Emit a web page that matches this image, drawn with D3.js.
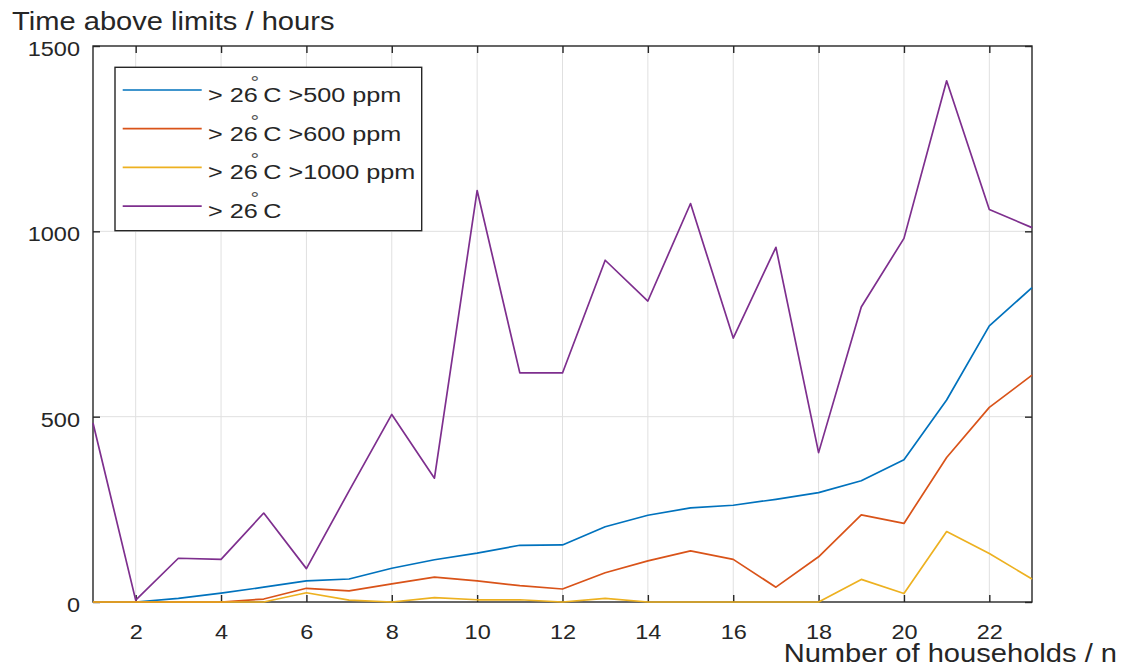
<!DOCTYPE html>
<html>
<head>
<meta charset="utf-8">
<script src="https://cdn.jsdelivr.net/npm/d3@7"></script>
<style>
  body { margin: 0; background: #fff; }
  svg { display: block; }
  text { font-family: "Liberation Sans", Arial, sans-serif; fill: #262626; }
</style>
</head>
<body>
<svg id="chart" width="1125" height="667"></svg>
<script>
// Number of households in each case
const households = [1, 2, 3, 4, 5, 6, 7, 8, 9, 10, 11, 12, 13, 14, 15, 16, 17, 18, 19, 20, 21, 22, 23];

// Hours above the limits
const over26co2_500  = [0, 0, 10, 24, 40, 57, 62, 91, 114, 132, 153, 154, 203, 234, 254, 261, 277, 295, 327, 384, 545, 745, 848];
const over26co2_600  = [0, 0, 0, 0, 8, 37, 30, 49, 67, 57, 44, 35, 79, 111, 138, 115, 40, 122, 235, 212, 390, 525, 612];
const over26co2_1000 = [0, 0, 0, 0, 0, 25, 5, 0, 12, 6, 6, 0, 10, 0, 0, 0, 0, 0, 61, 23, 190, 131, 62];
const over26         = [483, 5, 118, 115, 240, 90, 300, 506, 334, 1110, 618, 618, 922, 812, 1075, 712, 957, 403, 796, 981, 1406, 1059, 1010];

const xTickValues = [2, 4, 6, 8, 10, 12, 14, 16, 18, 20, 22];
const yTickValues = [0, 500, 1000, 1500];

// Legend labels: text before and after the superscript degree ring
const labelHead = ["> 26", "> 26", "> 26", "> 26"];
const labelTail = ["C >500 ppm", "C >600 ppm", "C >1000 ppm", "C"];

const series = [over26co2_500, over26co2_600, over26co2_1000, over26];
const colors = ["#0072BD", "#D95319", "#EDB120", "#7E2F8E"];

const svg = d3.select("#chart");
const ink = "#262626";
const sx = 1.12; // horizontal text stretch

const plotL = 93, plotR = 1032, plotT = 46, plotB = 602;

const x = d3.scaleLinear().domain([1, 23]).range([plotL, plotR]);
const y = d3.scaleLinear().domain([0, 1500]).range([plotB, plotT]);

// Grid
const grid = svg.append("g").attr("stroke", "#e0e0e0").attr("stroke-width", 1);
grid.selectAll("line.gx").data(xTickValues).join("line")
  .attr("x1", d => x(d)).attr("x2", d => x(d))
  .attr("y1", plotT).attr("y2", plotB);
grid.selectAll("line.gy").data([500, 1000]).join("line")
  .attr("y1", d => y(d)).attr("y2", d => y(d))
  .attr("x1", plotL).attr("x2", plotR);

// Axes box
svg.append("rect")
  .attr("x", plotL).attr("y", plotT)
  .attr("width", plotR - plotL).attr("height", plotB - plotT)
  .attr("fill", "none").attr("stroke", ink).attr("stroke-width", 1.4);

function styleAxis(g) {
  g.select(".domain").remove();
  g.selectAll(".tick line").attr("stroke", ink).attr("stroke-width", 1.4);
  g.selectAll(".tick text").attr("fill", ink)
    .style("font-family", "'Liberation Sans', Arial, sans-serif")
    .style("font-size", "21px");
}

const xAxisBottom = svg.append("g").attr("transform", `translate(0,${plotB})`)
  .call(d3.axisBottom(x).tickValues(xTickValues).tickSizeInner(-7).tickSizeOuter(0).tickFormat(d3.format("d")))
  .call(styleAxis);
xAxisBottom.selectAll(".tick text")
  .attr("y", 37).attr("dy", null)
  .attr("transform", `scale(${sx},1)`);

svg.append("g").attr("transform", `translate(0,${plotT})`)
  .call(d3.axisTop(x).tickValues(xTickValues).tickSizeInner(-7).tickSizeOuter(0).tickFormat(""))
  .call(styleAxis);

const yAxisLeft = svg.append("g").attr("transform", `translate(${plotL},0)`)
  .call(d3.axisLeft(y).tickValues(yTickValues).tickSizeInner(-7).tickSizeOuter(0).tickFormat(d3.format("d")))
  .call(styleAxis);
yAxisLeft.selectAll(".tick text")
  .attr("x", -13 / sx).attr("dy", "0.45em")
  .attr("transform", `scale(${sx},1)`);

svg.append("g").attr("transform", `translate(${plotR},0)`)
  .call(d3.axisRight(y).tickValues(yTickValues).tickSizeInner(-7).tickSizeOuter(0).tickFormat(""))
  .call(styleAxis);

// Data lines
const line = d3.line()
  .x((d, i) => x(households[i]))
  .y(d => y(d));

svg.append("g").selectAll("path").data(series).join("path")
  .attr("d", line)
  .attr("fill", "none")
  .attr("stroke", (d, i) => colors[i])
  .attr("stroke-width", 1.7)
  .attr("stroke-linejoin", "round");

// Legend
const legend = svg.append("g");
legend.append("rect")
  .attr("x", 115).attr("y", 67.3).attr("width", 306.7).attr("height", 163.4)
  .attr("fill", "#fff").attr("stroke", ink).attr("stroke-width", 1.4);

const rowY = i => 90 + i * 38.7;
const rows = legend.selectAll("g.row").data(colors).join("g").attr("class", "row");
rows.append("line")
  .attr("x1", 122.7).attr("x2", 201.7)
  .attr("y1", (d, i) => rowY(i)).attr("y2", (d, i) => rowY(i))
  .attr("stroke", d => d).attr("stroke-width", 1.7);

const lsx = 1.2;
const lt = rows.append("text")
  .attr("transform", (d, i) => `translate(208,${rowY(i) + 12}) scale(${lsx},1)`)
  .style("font-size", "21px");
lt.append("tspan").text((d, i) => labelHead[i]);
lt.append("tspan").text("°").style("font-size", "18px").attr("dx", -6).attr("dy", -13)
  .attr("fill", "#555");
lt.append("tspan").text((d, i) => labelTail[i]).attr("dx", 3.5).attr("dy", 13);

// Axis titles
svg.append("text")
  .attr("transform", `translate(12,30) scale(${sx},1)`)
  .style("font-size", "26px")
  .text("Time above limits / hours");

svg.append("text")
  .attr("transform", `translate(1117,662) scale(${sx},1)`)
  .attr("text-anchor", "end")
  .style("font-size", "26px")
  .text("Number of households / n");
</script>
</body>
</html>
